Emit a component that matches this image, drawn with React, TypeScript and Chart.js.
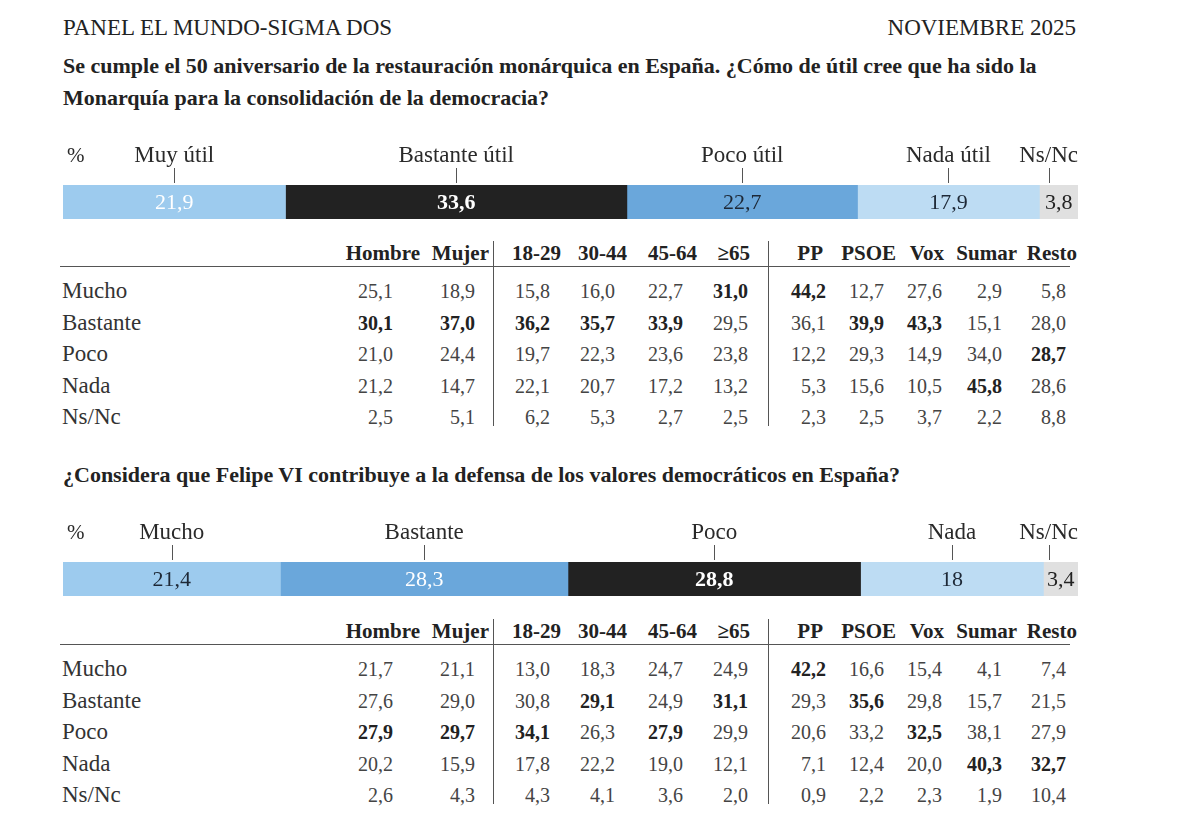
import React, { useEffect, useRef } from "react";
import { Chart, registerables } from "chart.js";

Chart.register(...registerables);

// ---------- DATA ----------
const headerLeft = "PANEL EL MUNDO-SIGMA DOS";
const headerRight = "NOVIEMBRE 2025";

const q1TitleLines = [
  "Se cumple el 50 aniversario de la restauración monárquica en España. ¿Cómo de útil cree que ha sido la",
  "Monarquía para la consolidación de la democracia?",
];
const q1Categories = ["Muy útil", "Bastante útil", "Poco útil", "Nada útil", "Ns/Nc"];
const q1Values = [21.9, 33.6, 22.7, 17.9, 3.8];

const q2TitleLines = [
  "¿Considera que Felipe VI contribuye a la defensa de los valores democráticos en España?",
];
const q2Categories = ["Mucho", "Bastante", "Poco", "Nada", "Ns/Nc"];
const q2Values = [21.4, 28.3, 28.8, 18, 3.4];

const tableColumns = ["Hombre", "Mujer", "18-29", "30-44", "45-64", "≥65", "PP", "PSOE", "Vox", "Sumar", "Resto"];
const tableRows = ["Mucho", "Bastante", "Poco", "Nada", "Ns/Nc"];

const table1Mucho = [25.1, 18.9, 15.8, 16.0, 22.7, 31.0, 44.2, 12.7, 27.6, 2.9, 5.8];
const table1Bastante = [30.1, 37.0, 36.2, 35.7, 33.9, 29.5, 36.1, 39.9, 43.3, 15.1, 28.0];
const table1Poco = [21.0, 24.4, 19.7, 22.3, 23.6, 23.8, 12.2, 29.3, 14.9, 34.0, 28.7];
const table1Nada = [21.2, 14.7, 22.1, 20.7, 17.2, 13.2, 5.3, 15.6, 10.5, 45.8, 28.6];
const table1NsNc = [2.5, 5.1, 6.2, 5.3, 2.7, 2.5, 2.3, 2.5, 3.7, 2.2, 8.8];

const table2Mucho = [21.7, 21.1, 13.0, 18.3, 24.7, 24.9, 42.2, 16.6, 15.4, 4.1, 7.4];
const table2Bastante = [27.6, 29.0, 30.8, 29.1, 24.9, 31.1, 29.3, 35.6, 29.8, 15.7, 21.5];
const table2Poco = [27.9, 29.7, 34.1, 26.3, 27.9, 29.9, 20.6, 33.2, 32.5, 38.1, 27.9];
const table2Nada = [20.2, 15.9, 17.8, 22.2, 19.0, 12.1, 7.1, 12.4, 20.0, 40.3, 32.7];
const table2NsNc = [2.6, 4.3, 4.3, 4.1, 3.6, 2.0, 0.9, 2.2, 2.3, 1.9, 10.4];

// ---------- STYLE ----------
const SERIF = '"Liberation Serif", "DejaVu Serif", serif';
const q1Colors = ["#9dcbee", "#222222", "#6aa7db", "#bddcf3", "#e0e0e0"];
const q1TextColors = ["#ffffff", "#ffffff", "#1d2836", "#1d2836", "#222222"];
const q2Colors = ["#9dcbee", "#6aa7db", "#222222", "#bddcf3", "#e0e0e0"];
const q2TextColors = ["#1d2836", "#ffffff", "#ffffff", "#1d2836", "#222222"];

const valueRight = [393, 475, 550, 615, 683, 748, 826, 884, 942, 1002, 1066];
const headRight = [420, 489, 561, 627, 697, 750, 823, 896, 944, 1017, 1077];
const dividerX = [493, 768];

const fmtBar = (v: number) => String(v).replace(".", ",");
const fmtTable = (v: number) => v.toFixed(1).replace(".", ",");

function StackBar(props: {
  categories: string[];
  values: number[];
  colors: string[];
  textColors: string[];
  top: number;
}) {
  const ref = useRef<HTMLCanvasElement>(null);
  useEffect(() => {
    const { categories, values, colors, textColors } = props;
    const total = values.reduce((a, b) => a + b, 0);
    const labelPlugin = {
      id: "segLabels",
      afterDatasetsDraw(chart: any) {
        const ctx = chart.ctx as CanvasRenderingContext2D;
        const area = chart.chartArea;
        ctx.save();
        let barTop = area.top;
        chart.data.datasets.forEach((ds: any, i: number) => {
          const el = chart.getDatasetMeta(i).data[0];
          const p = el.getProps(["x", "base", "y", "height"], true);
          const cx = (p.x + p.base) / 2;
          barTop = p.y - p.height / 2;
          const dark = colors[i] === "#222222";
          ctx.font = `${dark ? "bold " : ""}22px ${SERIF}`;
          ctx.fillStyle = textColors[i];
          ctx.textAlign = "center";
          ctx.textBaseline = "middle";
          ctx.fillText(fmtBar(values[i]), cx, p.y + 1);
          ctx.font = `23px ${SERIF}`;
          const w = ctx.measureText(ds.label).width;
          const lx = Math.min(cx, area.right - w / 2);
          ctx.fillStyle = "#2a2a2a";
          ctx.fillText(ds.label, lx, barTop - 29);
          ctx.strokeStyle = "#555555";
          ctx.lineWidth = 1;
          ctx.beginPath();
          ctx.moveTo(Math.round(lx) + 0.5, barTop - 17);
          ctx.lineTo(Math.round(lx) + 0.5, barTop - 2);
          ctx.stroke();
        });
        ctx.font = `21px ${SERIF}`;
        ctx.fillStyle = "#2a2a2a";
        ctx.textAlign = "left";
        ctx.textBaseline = "middle";
        ctx.fillText("%", area.left + 4, barTop - 29);
        ctx.restore();
      },
    };
    const chart = new Chart(ref.current as HTMLCanvasElement, {
      type: "bar",
      data: {
        labels: [""],
        datasets: categories.map((c, i) => ({
          label: c,
          data: [values[i]],
          backgroundColor: colors[i],
          borderWidth: 0,
          barPercentage: 1,
          categoryPercentage: 1,
        })),
      },
      options: {
        indexAxis: "y",
        animation: false,
        responsive: false,
        maintainAspectRatio: false,
        layout: { padding: { left: 8, right: 7, top: 50, bottom: 6 } },
        scales: {
          x: { stacked: true, display: false, min: 0, max: total },
          y: { stacked: true, display: false },
        },
        plugins: { legend: { display: false }, tooltip: { enabled: false } },
      },
      plugins: [labelPlugin],
    } as any);
    return () => chart.destroy();
  }, []);
  return (
    <canvas
      ref={ref}
      width={1030}
      height={90}
      style={{ position: "absolute", left: 55, top: props.top, width: 1030, height: 90 }}
    />
  );
}

function TextAt(props: {
  x: number;
  y: number;
  align: "left" | "right";
  size: number;
  bold?: boolean;
  color?: string;
  children: React.ReactNode;
}) {
  const lh = Math.round(props.size * 1.3);
  const style: React.CSSProperties = {
    position: "absolute",
    top: props.y - lh / 2,
    lineHeight: `${lh}px`,
    fontSize: props.size,
    fontFamily: SERIF,
    fontWeight: props.bold ? 700 : 400,
    color: props.color || "#2a2a2a",
    whiteSpace: "nowrap",
  };
  if (props.align === "left") style.left = props.x;
  else style.right = 1200 - props.x;
  return <div style={style}>{props.children}</div>;
}

function DataTable(props: { rows: number[][]; headY: number }) {
  const { rows, headY } = props;
  const lineY = headY + 13;
  const rowY = (r: number) => headY + 38 + r * 31.5;
  const colMax = tableColumns.map((_, c) => Math.max(...rows.slice(0, 4).map((row) => row[c])));
  const out: React.ReactNode[] = [];
  tableColumns.forEach((h, c) =>
    out.push(
      <TextAt key={"h" + c} x={headRight[c]} y={headY} align="right" size={21} bold color="#222">
        {h}
      </TextAt>
    )
  );
  out.push(
    <div key="hl" style={{ position: "absolute", left: 60, top: lineY, width: 1010, height: 1, background: "#555" }} />
  );
  dividerX.forEach((x, i) =>
    out.push(
      <div
        key={"v" + i}
        style={{ position: "absolute", left: x, top: headY - 12, width: 1, height: rowY(4) + 9 - (headY - 12), background: "#555" }}
      />
    )
  );
  tableRows.forEach((name, r) => {
    out.push(
      <TextAt key={"r" + r} x={62} y={rowY(r)} align="left" size={23} color="#333">
        {name}
      </TextAt>
    );
    rows[r].forEach((v, c) =>
      out.push(
        <TextAt
          key={"c" + r + "_" + c}
          x={valueRight[c]}
          y={rowY(r)}
          align="right"
          size={20}
          bold={r < 4 && v === colMax[c]}
          color={r < 4 && v === colMax[c] ? "#222" : "#444"}
        >
          {fmtTable(v)}
        </TextAt>
      )
    );
  });
  return <>{out}</>;
}

export default function App() {
  const table1 = [table1Mucho, table1Bastante, table1Poco, table1Nada, table1NsNc];
  const table2 = [table2Mucho, table2Bastante, table2Poco, table2Nada, table2NsNc];
  return (
    <div style={{ position: "fixed", left: 0, top: 0, width: 1200, height: 818, background: "#fff", overflow: "hidden" }}>
      <TextAt x={63} y={28} align="left" size={23} color="#222">
        {headerLeft}
      </TextAt>
      <TextAt x={1076} y={28} align="right" size={23} color="#222">
        {headerRight}
      </TextAt>
      {q1TitleLines.map((t, i) => (
        <TextAt key={"t1" + i} x={63} y={65 + i * 32} align="left" size={22} bold color="#222">
          {t}
        </TextAt>
      ))}
      <StackBar categories={q1Categories} values={q1Values} colors={q1Colors} textColors={q1TextColors} top={135} />
      <DataTable rows={table1} headY={253} />
      {q2TitleLines.map((t, i) => (
        <TextAt key={"t2" + i} x={63} y={474 + i * 32} align="left" size={22} bold color="#222">
          {t}
        </TextAt>
      ))}
      <StackBar categories={q2Categories} values={q2Values} colors={q2Colors} textColors={q2TextColors} top={512} />
      <DataTable rows={table2} headY={631} />
    </div>
  );
}
